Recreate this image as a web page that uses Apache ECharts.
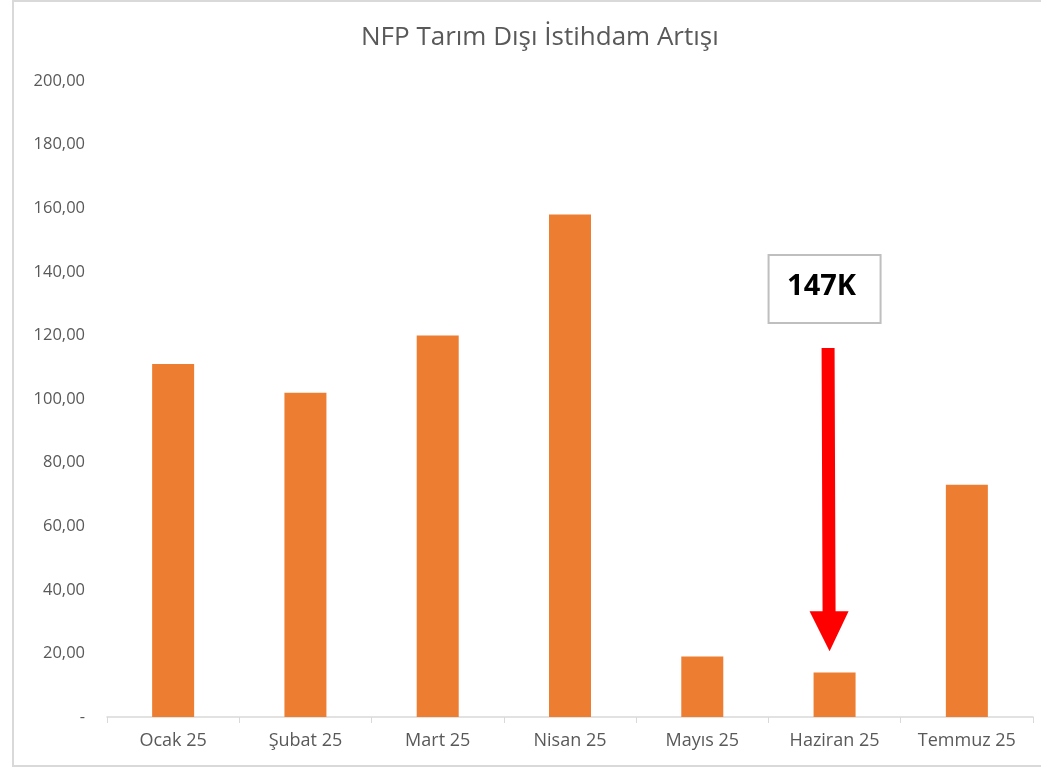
<!DOCTYPE html>
<html lang="tr">
<head>
  <meta charset="UTF-8">
  <title>NFP Tarım Dışı İstihdam Artışı</title>
  <style>
    * { margin: 0; padding: 0; box-sizing: border-box; }
    html, body { width: 1041px; height: 767px; background: #fff; overflow: hidden; }
    #frame {
      position: absolute;
      left: 12px; top: 0;
      width: 1040px; height: 767px;
      border-top: 2px solid #d9d9d9;
      border-left: 2px solid #d9d9d9;
      border-bottom: 2px solid #d9d9d9;
    }
    #chart { position: absolute; left: 0; top: 0; width: 1041px; height: 767px; }
  </style>
</head>
<body>
  <div id="frame"></div>
  <div id="chart"></div>

  <script src="https://cdn.jsdelivr.net/npm/echarts@6/dist/echarts.min.js"></script>
  <script>
    const months = ['Ocak 25', 'Şubat 25', 'Mart 25', 'Nisan 25', 'Mayıs 25', 'Haziran 25', 'Temmuz 25'];
    const nfpValues = [111, 102, 120, 158, 19, 14, 73];
    const noteText = '147K';
    const noteMonth = 'Haziran 25';

    const chart = echarts.init(document.getElementById('chart'));
    const font = '"Open Sans", "Liberation Sans", sans-serif';

    chart.setOption({
      animation: false,
      title: {
        text: 'NFP Tarım Dışı İstihdam Artışı',
        left: 356,
        top: 20,
        textStyle: { fontFamily: font, fontSize: 26, fontWeight: 'normal', color: '#595959' }
      },
      grid: { left: 107, right: 8, top: 81, bottom: 50 },
      xAxis: {
        type: 'category',
        data: months,
        axisLine: { lineStyle: { color: '#d9d9d9', width: 1.5 } },
        axisTick: { show: true, length: 6, lineStyle: { color: '#d9d9d9' } },
        axisLabel: { fontFamily: font, fontSize: 18, color: '#595959', margin: 15 }
      },
      yAxis: {
        type: 'value',
        min: 0,
        max: 200,
        interval: 20,
        axisLine: { show: false },
        axisTick: { show: false },
        splitLine: { show: false },
        axisLabel: {
          fontFamily: font,
          fontSize: 16.5,
          color: '#595959',
          margin: 22,
          formatter: v => v === 0 ? '-' : v.toFixed(2).replace('.', ',')
        }
      },
      series: [{
        type: 'bar',
        data: nfpValues,
        barWidth: 42,
        itemStyle: { color: '#ed7d31' }
      }]
    });

    // ok ve not kutusu, Haziran çubuğuna göre konumlanır
    function drawNote() {
      const top = chart.convertToPixel({ xAxisIndex: 0, yAxisIndex: 0 }, [noteMonth, 116]);
      const tip = chart.convertToPixel({ xAxisIndex: 0, yAxisIndex: 0 }, [noteMonth, 20.7]);
      const cx = top[0] - 6;
      const headH = 40;
      chart.setOption({
        graphic: [
          {
            type: 'rect',
            shape: { x: cx - 60, y: 255, width: 112, height: 68 },
            style: { fill: '#fff', stroke: '#bfbfbf', lineWidth: 2 }
          },
          {
            type: 'text',
            x: cx - 7, y: 287,
            style: {
              text: noteText,
              fill: '#000',
              font: 'bold 29px "Open Sans", "Liberation Sans", sans-serif',
              align: 'center',
              verticalAlign: 'middle'
            }
          },
          {
            type: 'polygon',
            shape: {
              points: [
                [cx - 7, top[1]], [cx + 6, top[1]],
                [cx + 7, tip[1] - headH], [cx + 20, tip[1] - headH],
                [cx + 1, tip[1]],
                [cx - 19, tip[1] - headH], [cx - 6, tip[1] - headH]
              ]
            },
            style: { fill: '#ff0000' }
          }
        ]
      });
    }
    drawNote();
  </script>
</body>
</html>
